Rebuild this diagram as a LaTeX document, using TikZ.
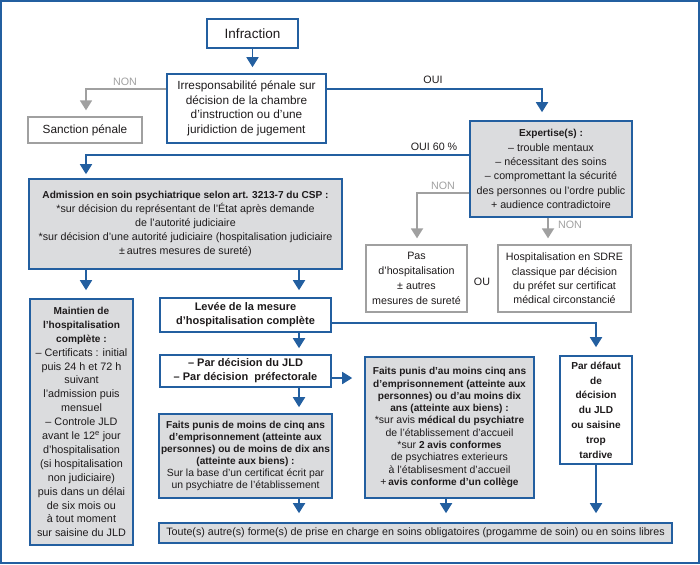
\documentclass[tikz,border=0pt]{standalone}
\usepackage{fontspec}
\setmainfont{Liberation Sans}
\usetikzlibrary{arrows.meta}
\definecolor{bl}{RGB}{35,95,160}
\definecolor{gf}{RGB}{219,220,222}
\definecolor{gl}{RGB}{160,160,160}
\definecolor{tx}{RGB}{30,27,28}
\newcommand\bl[1]{{\bfseries\fontsize{10.1}{\baselineskip}\selectfont #1}}
\newcommand\blg[1]{{\bfseries\fontsize{11}{\baselineskip}\selectfont #1}}
\begin{document}
\begin{tikzpicture}[x=1pt,y=-1pt,
  box/.style={draw=bl, line width=1.6pt, fill=white, inner sep=0pt, align=center, text=tx,
    font=\fontsize{10.7}{14.3}\selectfont},
  gbox/.style={box, fill=gf},
  pbox/.style={box, draw=gl, line width=1.3pt},
  arr/.style={draw=bl, line width=1.8pt, -{Triangle[width=12pt,length=10pt]}, shorten >=6pt},
  garr/.style={arr, draw=gl},
  lab/.style={inner sep=0pt, text=tx, font=\fontsize{10.7}{13}\selectfont},
  glab/.style={lab, text=gl}
]
\useasboundingbox (0,0) rectangle (700,564);
\draw[bl, line width=1.5pt] (1,1) rectangle (699,563);

% column and row coordinates
\coordinate (cL) at (86,0);
\coordinate (cM) at (299,0);
\coordinate (cE) at (542,0);
\coordinate (cF) at (417,0);
\coordinate (cN) at (548,0);
\coordinate (cP) at (446,0);
\coordinate (r89) at (0,89);
\coordinate (r155) at (0,155);
\coordinate (r193) at (0,193);
\coordinate (r323) at (0,323);
\coordinate (r378) at (0,378);

% nodes
\node[box, minimum width=91pt, minimum height=29pt, font=\fontsize{13.5}{16}\selectfont] (infr) at (252.5,33.5) {Infraction};
\node[box, minimum width=159pt, minimum height=69pt, font=\fontsize{11.8}{14.5}\selectfont] (irr) at (246.5,108.5)
  {Irresponsabilité pénale sur\\décision de la chambre\\d’instruction ou d’une\\juridiction de jugement};
\node[pbox, minimum width=114pt, minimum height=26pt, font=\fontsize{11.8}{14.5}\selectfont] (sanc) at (85,130) {Sanction pénale};
\node[gbox, minimum width=162pt, minimum height=96pt, font=\fontsize{10.7}{14.4}\selectfont] (exp) at (551,169)
  {\bl{Expertise(s) :}\\– trouble mentaux\\– nécessitant des soins\\– compromettant la sécurité\\des personnes ou l’ordre public\\+ audience contradictoire};
\node[gbox, minimum width=313pt, minimum height=90pt, font=\fontsize{10.7}{14.1}\selectfont] (adm) at (185.5,224)
  {\bl{Admission en soin psychiatrique selon art. 3213-7 du CSP :}\\*sur décision du représentant de l’État après demande\\de l’autorité judiciaire\\*sur décision d’une autorité judiciaire (hospitalisation judiciaire\\±\,autres mesures de sureté)};
\node[pbox, minimum width=101pt, minimum height=67pt, font=\fontsize{10.7}{15}\selectfont] (pas) at (416.5,278.5)
  {Pas\\d’hospitalisation\\± autres\\mesures de sureté};
\node[pbox, minimum width=133pt, minimum height=67pt, font=\fontsize{10.7}{14.3}\selectfont] (sdre) at (564.5,278.5)
  {Hospitalisation en SDRE\\classique par décision\\du préfet sur certificat\\médical circonstancié};
\node[gbox, minimum width=103pt, minimum height=246pt, font=\fontsize{10.8}{13.9}\selectfont] (maint) at (81.5,422)
  {\bl{Maintien de}\\\bl{l’hospitalisation}\\\bl{complète :}\\– Certificats : initial\\puis 24 h et 72 h\\suivant\\l’admission puis\\mensuel\\– Controle JLD\\avant le 12\textsuperscript{e} jour\\d’hospitalisation\\(si hospitalisation\\non judiciaire)\\puis dans un délai\\de six mois ou\\à tout moment\\sur saisine du JLD};
\node[box, minimum width=171pt, minimum height=34pt, font=\fontsize{10.7}{14.2}\selectfont] (lev) at (245.5,315)
  {\blg{Levée de la mesure}\\\blg{d’hospitalisation complète}};
\node[box, minimum width=171pt, minimum height=32pt, font=\fontsize{10.7}{14.2}\selectfont] (pard) at (245.5,371)
  {\blg{– Par décision du JLD}\\\blg{– Par décision\ \ préfectorale}};
\node[gbox, minimum width=173pt, minimum height=84pt, font=\fontsize{10.4}{12}\selectfont] (fmoins) at (245.5,456)
  {\bl{Faits punis de moins de cinq ans}\\\bl{d’emprisonnement (atteinte aux}\\\bl{personnes) ou de moins de dix ans}\\\bl{(atteinte aux biens) :}\\Sur la base d’un certificat écrit par\\un psychiatre de l’établissement};
\node[gbox, minimum width=169pt, minimum height=141pt, font=\fontsize{10.5}{12.3}\selectfont] (fplus) at (449.5,427.5)
  {\bl{Faits punis d’au moins cinq ans}\\\bl{d’emprisonnement (atteinte aux}\\\bl{personnes) ou d’au moins dix}\\\bl{ans (atteinte aux biens) :}\\*sur avis \bl{médical du psychiatre}\\de l’établissement d’accueil\\*sur \bl{2 avis conformes}\\de psychiatres exterieurs\\à l’établisesment d’accueil\\+\,\bl{avis conforme d’un collège}};
\node[box, minimum width=72pt, minimum height=108pt, font=\fontsize{10.7}{14.8}\selectfont] (defaut) at (596,410)
  {\bl{Par défaut}\\\bl{de}\\\bl{décision}\\\bl{du JLD}\\\bl{ou saisine}\\\bl{trop}\\\bl{tardive}};
\node[gbox, minimum width=513pt, minimum height=20pt, font=\fontsize{10.7}{13}\selectfont] (toute) at (415.5,533)
  {Toute(s) autre(s) forme(s) de prise en charge en soins obligatoires (progamme de soin) ou en soins libres};

% labels
\node[glab] (lnon1) at (125,82) {NON};
\node[lab] (loui) at (433,80) {OUI};
\node[lab] (loui60) at (434,147) {OUI 60 \%};
\node[glab] (lnon2) at (443,186) {NON};
\node[glab] (lnon3) at (570,225) {NON};
\node[lab] (lou) at (482,282) {OU};

% connectors
\draw[arr] (infr.south) -- (infr.south |- irr.north);
\draw[garr] (irr.west |- r89) -| (cL |- sanc.north);
\draw[arr, shorten >=8pt] (irr.east |- r89) -| (cE |- exp.north);
\draw[arr, shorten >=4pt] (exp.west |- r155) -| (cL |- adm.north);
\draw[garr] (exp.west |- r193) -| (cF |- pas.north);
\draw[garr] (cN |- exp.south) -- (cN |- sdre.north);
\draw[arr, shorten >=8pt] (cL |- adm.south) -- (cL |- maint.north);
\draw[arr, shorten >=7pt] (cM |- adm.south) -- (cM |- lev.north);
\draw[arr, shorten >=8pt] (lev.east |- r323) -| (defaut.north);
\draw[arr] (cM |- lev.south) -- (cM |- pard.north);
\draw[arr, shorten >=12pt] (pard.east |- r378) -- (fplus.west |- r378);
\draw[arr] (cM |- pard.south) -- (cM |- fmoins.north);
\draw[arr, shorten >=9pt] (cM |- fmoins.south) -- (cM |- toute.north);
\draw[arr, shorten >=9pt] (cP |- fplus.south) -- (cP |- toute.north);
\draw[arr, shorten >=9pt] (defaut.south) -- (defaut.south |- toute.north);
\end{tikzpicture}
\end{document}
